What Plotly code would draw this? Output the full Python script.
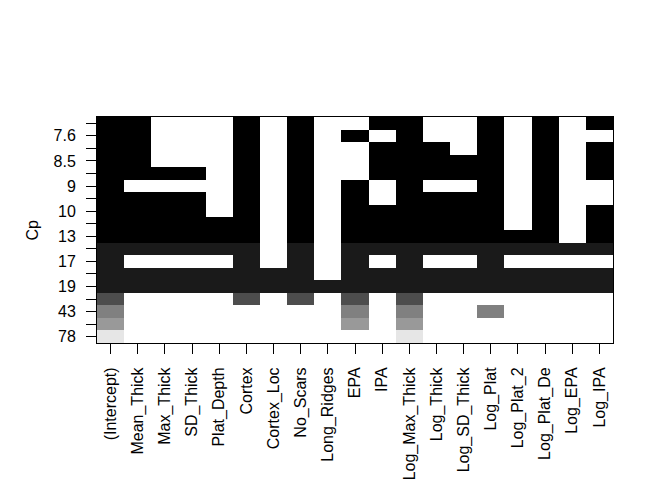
import plotly.graph_objects as go

# predictor names (columns)
predictors = ["(Intercept)", "Mean_Thick", "Max_Thick", "SD_Thick", "Plat_Depth",
              "Cortex", "Cortex_Loc", "No_Scars", "Long_Ridges", "EPA", "IPA",
              "Log_Max_Thick", "Log_Thick", "Log_SD_Thick", "Log_Plat",
              "Log_Plat_2", "Log_Plat_De", "Log_EPA", "Log_IPA"]

# Mallows' Cp of each model, best (top row) to worst (bottom row)
cp = [7.3, 7.6, 8.1, 8.5, 8.8, 9.0, 9.6, 10, 12, 13,
      16, 17, 18, 19, 31, 43.4, 53, 78]

# variable inclusion for each model (same order as cp)
which = [
    [1,1,0,0,0,1,0,1,0,0,1,1,0,0,1,0,1,0,1],
    [1,1,0,0,0,1,0,1,0,1,0,1,0,0,1,0,1,0,0],
    [1,1,0,0,0,1,0,1,0,0,1,1,1,0,1,0,1,0,1],
    [1,1,0,0,0,1,0,1,0,0,1,1,1,1,1,0,1,0,1],
    [1,1,1,1,0,1,0,1,0,0,1,1,1,1,1,0,1,0,1],
    [1,0,0,0,0,1,0,1,0,1,0,1,0,0,1,0,1,0,0],
    [1,1,1,1,0,1,0,1,0,1,0,1,1,1,1,0,1,0,0],
    [1,1,1,1,0,1,0,1,0,1,1,1,1,1,1,0,1,0,1],
    [1,1,1,1,1,1,0,1,0,1,1,1,1,1,1,0,1,0,1],
    [1,1,1,1,1,1,0,1,0,1,1,1,1,1,1,1,1,0,1],
    [1,1,1,1,1,1,0,1,0,1,1,1,1,1,1,1,1,1,1],
    [1,0,0,0,0,1,0,1,0,1,0,1,0,0,1,0,0,0,0],
    [1,1,1,1,1,1,1,1,0,1,1,1,1,1,1,1,1,1,1],
    [1,1,1,1,1,1,1,1,1,1,1,1,1,1,1,1,1,1,1],
    [1,0,0,0,0,1,0,1,0,1,0,1,0,0,0,0,0,0,0],
    [1,0,0,0,0,0,0,0,0,1,0,1,0,0,1,0,0,0,0],
    [1,0,0,0,0,0,0,0,0,1,0,1,0,0,0,0,0,0,0],
    [1,0,0,0,0,0,0,0,0,0,0,1,0,0,0,0,0,0,0],
]

# R gray(seq(0, 0.9, length=10))
grays = ["#000000", "#1A1A1A", "#333333", "#4D4D4D", "#666666",
         "#808080", "#999999", "#B3B3B3", "#CCCCCC", "#E6E6E6"]
n = len(grays)
colorscale = []
for i, c in enumerate(grays):
    colorscale.append([i / n, c])
    colorscale.append([(i + 1) / n, c])

nm = len(cp)
# bottom row is y=1 (worst model), top row y=nm (best)
rows_bottom_up = list(range(nm - 1, -1, -1))
z = []
for r in rows_bottom_up:
    z.append([cp[r] if w else None for w in which[r]])

xs = list(range(1, len(predictors) + 1))
ys = list(range(1, nm + 1))
yt = []
for k, r in enumerate(rows_bottom_up):
    yt.append(f"{cp[r]:.2g}" if k % 2 == 0 else "")

fig = go.Figure(go.Heatmap(
    x=xs, y=ys, z=z, colorscale=colorscale,
    zmin=min(cp), zmax=max(cp), showscale=False,
    hoverongaps=False,
))

font = dict(family="Liberation Sans, Arial, sans-serif", size=16, color="black")
fig.update_layout(
    template="none",
    width=672, height=480,
    margin=dict(l=97, r=59, t=117, b=137, pad=0),
    paper_bgcolor="white", plot_bgcolor="white",
    font=font,
    xaxis=dict(range=[0.5, len(predictors) + 0.5], tickvals=xs, ticktext=predictors,
               tickangle=-90, ticks="outside", ticklen=10, tickcolor="black",
               tickwidth=1, automargin=False, tickfont=font,
               showline=True, linecolor="black", linewidth=1, mirror=True,
               showgrid=False, zeroline=False, ticklabelstandoff=7),
    yaxis=dict(range=[0.5, nm + 0.5], tickvals=ys, ticktext=yt,
               ticks="outside", ticklen=10, tickcolor="black",
               tickwidth=1, automargin=False, tickfont=font,
               showline=True, linecolor="black", linewidth=1, mirror=True,
               showgrid=False, zeroline=False, ticklabelstandoff=7),
    annotations=[dict(text="Cp", xref="paper", yref="paper",
                      x=(31.5 - 97) / 516, y=0.5, textangle=-90,
                      showarrow=False, font=font,
                      xanchor="center", yanchor="middle")],
)

fig.write_html("out.html")
